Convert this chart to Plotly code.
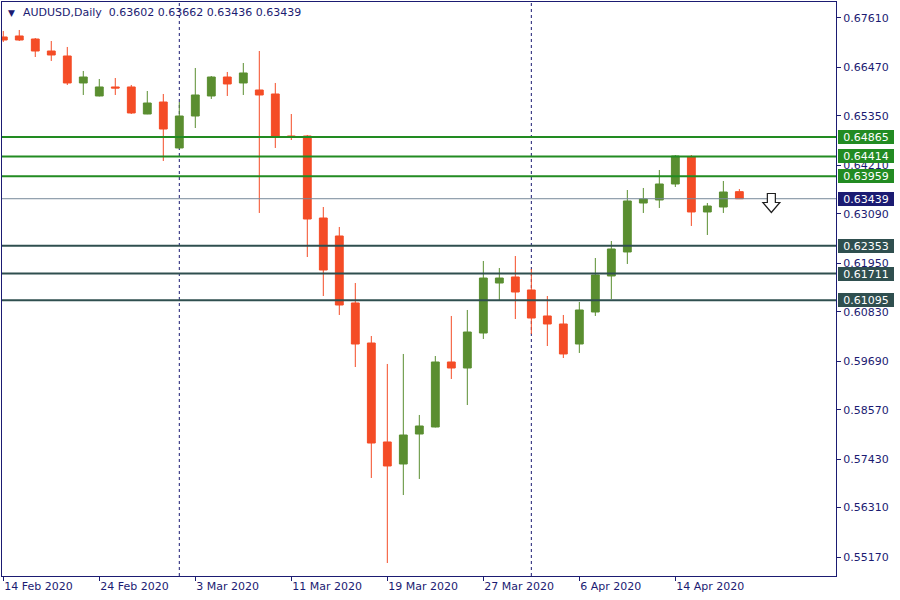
import plotly.graph_objects as go

# ---------------- data ----------------
dates = [
    "2020-02-14", "2020-02-17", "2020-02-18", "2020-02-19", "2020-02-20", "2020-02-21",
    "2020-02-24", "2020-02-25", "2020-02-26", "2020-02-27", "2020-02-28",
    "2020-03-02", "2020-03-03", "2020-03-04", "2020-03-05", "2020-03-06",
    "2020-03-09", "2020-03-10", "2020-03-11", "2020-03-12", "2020-03-13",
    "2020-03-16", "2020-03-17", "2020-03-18", "2020-03-19", "2020-03-20",
    "2020-03-23", "2020-03-24", "2020-03-25", "2020-03-26", "2020-03-27",
    "2020-03-30", "2020-03-31", "2020-04-01", "2020-04-02", "2020-04-03",
    "2020-04-06", "2020-04-07", "2020-04-08", "2020-04-09", "2020-04-10",
    "2020-04-13", "2020-04-14", "2020-04-15", "2020-04-16", "2020-04-17",
    "2020-04-20",
]
open_ = [
    0.67172, 0.67195, 0.67125, 0.66848, 0.66733, 0.66110,
    0.65810, 0.66018, 0.66018, 0.65394, 0.65671,
    0.64610, 0.65348, 0.65810, 0.66248, 0.66110,
    0.65948, 0.65856, 0.64887, 0.64887, 0.62994,
    0.62579, 0.61033, 0.60109, 0.57825, 0.57317,
    0.58009, 0.58171, 0.59671, 0.59532, 0.60340,
    0.61494, 0.61633, 0.61333, 0.60733, 0.60548,
    0.60086, 0.60825, 0.61656, 0.62210, 0.63340,
    0.63410, 0.63779, 0.64402, 0.63133, 0.63248,
    0.63602,
]
high = [
    0.67310, 0.67333, 0.67148, 0.67079, 0.66941, 0.66387,
    0.66202, 0.66225, 0.66064, 0.65925, 0.65856,
    0.65671, 0.66456, 0.66271, 0.66364, 0.66571,
    0.66848, 0.66110, 0.65394, 0.64910, 0.63248,
    0.62787, 0.61494, 0.60271, 0.59625, 0.59856,
    0.58448, 0.59809, 0.60733, 0.60871, 0.62002,
    0.61840, 0.62117, 0.61817, 0.61194, 0.60756,
    0.61056, 0.62071, 0.62463, 0.63640, 0.63687,
    0.64102, 0.64448, 0.64448, 0.63340, 0.63848,
    0.63662,
]
low = [
    0.67056, 0.67079, 0.66710, 0.66618, 0.66064, 0.65833,
    0.65800, 0.65833, 0.65394, 0.65390, 0.64310,
    0.64587, 0.65071, 0.65741, 0.65810, 0.65833,
    0.63110, 0.64610, 0.64794, 0.62094, 0.61194,
    0.60756, 0.59555, 0.56994, 0.55032, 0.56601,
    0.56971, 0.58160, 0.59279, 0.58678, 0.60202,
    0.61079, 0.60663, 0.60317, 0.60040, 0.59763,
    0.59879, 0.60733, 0.61125, 0.61933, 0.63110,
    0.63225, 0.63710, 0.62810, 0.62602, 0.63110,
    0.63436,
]
close = [
    0.67102, 0.67102, 0.66848, 0.66756, 0.66110, 0.66248,
    0.66018, 0.65994, 0.65418, 0.65648, 0.65048,
    0.65348, 0.65833, 0.66248, 0.66087, 0.66341,
    0.65833, 0.64864, 0.64852, 0.62971, 0.61794,
    0.60986, 0.60086, 0.57801, 0.57271, 0.57986,
    0.58194, 0.59671, 0.59532, 0.60363, 0.61609,
    0.61609, 0.61286, 0.60686, 0.60548, 0.59856,
    0.60871, 0.61679, 0.62279, 0.63387, 0.63433,
    0.63779, 0.64425, 0.63133, 0.63271, 0.63594,
    0.63439,
]

resistance_levels = [0.64865, 0.64414, 0.63959]
support_levels = [0.62353, 0.61711, 0.61095]
bid_price = 0.63439

separator_dates = ["2020-03-02", "2020-04-01"]

x_tick_dates = ["2020-02-14", "2020-02-24", "2020-03-03", "2020-03-11",
                "2020-03-19", "2020-03-27", "2020-04-06", "2020-04-14"]
x_tick_labels = ["14 Feb 2020", "24 Feb 2020", "3 Mar 2020", "11 Mar 2020",
                 "19 Mar 2020", "27 Mar 2020", "6 Apr 2020", "14 Apr 2020"]

y_tick_vals = [0.67610, 0.66470, 0.65350, 0.64210, 0.63090, 0.61950,
               0.60830, 0.59690, 0.58570, 0.57430, 0.56310, 0.55170]
y_tick_labels = ["0.67610", "0.66470", "0.65350", "0.64210", "0.63090", "0.61950",
                 "0.60830", "0.59690", "0.58570", "0.57430", "0.56310", "0.55170"]

arrow_bar = 48
arrow_price = 0.63340

header_symbol = "AUDUSD,Daily"
header_ohlc = ["0.63602", "0.63662", "0.63436", "0.63439"]

# ---------------- style ----------------
NAVY = "#1b1b72"
BULL = "#5a8e30"
BEAR = "#f44c26"
RES_COLOR = "#228b22"
SUP_COLOR = "#2f4f4f"
BID_COLOR = "#778899"
FONT = "DejaVu Sans"

fig = go.Figure()
fig.add_trace(go.Candlestick(
    x=dates, open=open_, high=high, low=low, close=close,
    increasing=dict(line=dict(color=BULL, width=1), fillcolor=BULL),
    decreasing=dict(line=dict(color=BEAR, width=1), fillcolor=BEAR),
    whiskerwidth=0,
    hoverinfo="skip",
    showlegend=False,
))

shapes = []
for d in separator_dates:
    shapes.append(dict(type="line", xref="x", yref="paper", x0=d, x1=d, y0=0, y1=1,
                       line=dict(color=NAVY, width=1, dash="3px,3px"), layer="below"))
shapes.append(dict(type="line", xref="paper", yref="y", x0=0, x1=1, y0=bid_price, y1=bid_price,
                   line=dict(color=BID_COLOR, width=1), layer="above"))
for lv in resistance_levels:
    shapes.append(dict(type="line", xref="paper", yref="y", x0=0, x1=1, y0=lv, y1=lv,
                       line=dict(color=RES_COLOR, width=2), layer="above"))
for lv in support_levels:
    shapes.append(dict(type="line", xref="paper", yref="y", x0=0, x1=1, y0=lv, y1=lv,
                       line=dict(color=SUP_COLOR, width=2), layer="above"))

# hollow sell arrow (pixel-sized glyph anchored at the data point)
shapes.append(dict(
    type="path", xref="x", yref="y",
    xsizemode="pixel", ysizemode="pixel",
    xanchor=arrow_bar, yanchor=arrow_price,
    path="M-4,9.5 L4,9.5 L4,0.5 L8.5,0.5 L0,-9.5 L-8.5,0.5 L-4,0.5 Z",
    fillcolor="white", line=dict(color="#1e1e1e", width=1.2), layer="above",
))

annotations = []
def price_box(value, bg):
    annotations.append(dict(
        xref="paper", yref="y", x=1, y=value, xanchor="left", yanchor="middle",
        xshift=2, text=f"{value:.5f}", showarrow=False,
        font=dict(family=FONT, size=11, color="white"),
        bgcolor=bg, borderpad=1, borderwidth=0, width=54, height=12, align="center",
    ))
for lv in resistance_levels:
    price_box(lv, RES_COLOR)
price_box(bid_price, NAVY)
for lv in support_levels:
    price_box(lv, SUP_COLOR)

# header
annotations.append(dict(xref="paper", yref="paper", x=0, y=1, xanchor="left", yanchor="top",
                        xshift=4, yshift=-4, text="▼", showarrow=False,
                        font=dict(family=FONT, size=9, color=NAVY)))
annotations.append(dict(xref="paper", yref="paper", x=0, y=1, xanchor="left", yanchor="top",
                        xshift=19, yshift=-2,
                        text=header_symbol + "\u00a0\u00a0" + "\u00a0".join(header_ohlc),
                        showarrow=False, font=dict(family=FONT, size=11, color=NAVY)))

fig.update_layout(
    width=900, height=600,
    margin=dict(l=2, r=64, t=2, b=24, pad=0, autoexpand=False),
    paper_bgcolor="white", plot_bgcolor="white",
    font=dict(family=FONT, size=11, color=NAVY),
    shapes=shapes, annotations=annotations,
    showlegend=False,
    xaxis=dict(
        type="category", range=[-0.08, 52.04], automargin=False,
        rangeslider=dict(visible=False),
        tickmode="array", tickvals=x_tick_dates, ticktext=x_tick_labels,
        ticks="outside", ticklen=4, tickcolor=NAVY, tickwidth=1,
        ticklabelposition="outside right",
        tickfont=dict(family=FONT, size=11, color=NAVY),
        showgrid=False, zeroline=False,
        showline=True, linecolor=NAVY, linewidth=1, mirror=True,
    ),
    yaxis=dict(
        side="right", range=[0.54732, 0.67979], automargin=False,
        tickmode="array", tickvals=y_tick_vals, ticktext=y_tick_labels,
        ticks="outside", ticklen=4, tickcolor=NAVY, tickwidth=1,
        tickfont=dict(family=FONT, size=11, color=NAVY),
        showgrid=False, zeroline=False,
        showline=True, linecolor=NAVY, linewidth=1, mirror=True,
    ),
)

fig.write_html(
    "out.html",
    config={"displayModeBar": False},
    post_script="document.body.style.margin='0';document.body.style.overflow='hidden';",
)
